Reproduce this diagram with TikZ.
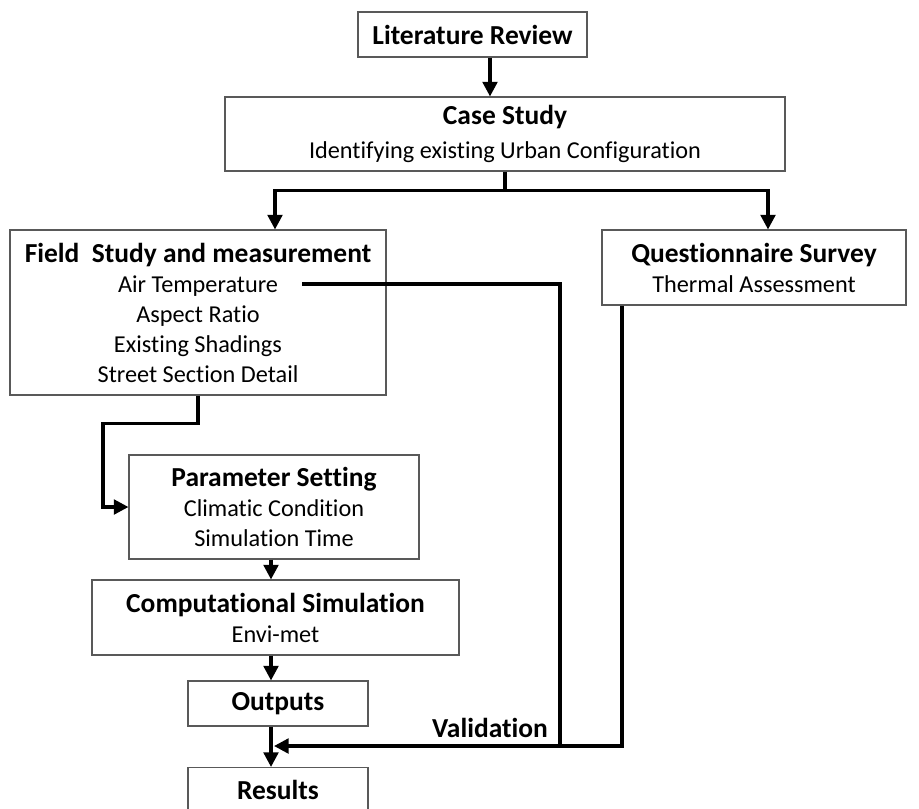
\documentclass[tikz,border=0pt]{standalone}
\usepackage{fontspec}
\setmainfont{Carlito}[Ligatures=NoCommon]
\usetikzlibrary{arrows.meta,calc,positioning}
\tikzset{
    >={Triangle[length=11pt,width=11pt]},
    box/.style 2 args={draw=black!65,line width=0.8pt,rectangle,inner sep=0pt,
        align=center,minimum width=#1*0.75pt,minimum height=#2*0.75pt},
    flow/.style={->,line width=2.5pt},
    link/.style={line width=2.5pt},
}
\newcommand{\hd}[1]{{\fontsize{20.6}{22.5}\selectfont\bfseries #1}}

\begin{document}
\begin{tikzpicture}[x=0.75pt,y=-0.75pt,font=\fontsize{18.2}{22.5}\selectfont]
            \useasboundingbox (0,0) rectangle (919,808);

            \node[box={229}{45}] (lit) at (472.5,34.5) {\hd{Literature Review}};
            \node[box={560}{74}] (case) at (505,134)
                {\hd{Case Study}\\[3pt] Identifying existing Urban Configuration};
            \node[box={376}{165}] (field) at (198,312.5)
                {\hd{Field\ \ Study and measurement}\\ Air Temperature\\ Aspect Ratio\\
                 Existing Shadings\\ Street Section Detail};
            \node[box={304}{75}] (quest) at (754,267.5)
                {\hd{Questionnaire Survey}\\ Thermal Assessment};
            \node[box={290}{104}] (param) at (274,507)
                {\hd{Parameter Setting}\\ Climatic Condition\\ Simulation Time};
            \node[box={367}{75}] (comp) at (275.5,617.5)
                {\hd{Computational Simulation}\\ Envi-met};
            \node[box={180}{45}] (outs) at (278,703.5) {\hd{Outputs}};
            \node[box={180}{45}] (res) at (278,790) {\hd{Results}};
            \node (valid) at (490,728) {\hd{Validation}};

            \coordinate (airT) at (302,284);
            \coordinate (vjoin) at (560,746);
            \coordinate (spine) at (271,0);

            % top part
            \draw[flow] ($(lit.south)+(17.5,0)$) coordinate (a) -- (a |- case.north);
            \draw[link] (case.south) -- ++(0,19) coordinate (split);
            \draw[flow] (split) -| ($(field.north)+(77,0)$);
            \draw[flow] (split) -| ($(quest.north)+(14,0)$);

            % left chain
            \draw[flow] (field.south) -- ++(0,28) -- ++(-95,0) |- (param.west);
            \draw[flow] (spine |- param.south) -- (spine |- comp.north);
            \draw[flow] (spine |- comp.south) -- (spine |- outs.north);
            \draw[flow] (spine |- outs.south) -- (spine |- res.north);

            % validation
            \draw[link] (airT) -| (vjoin);
            \draw[flow] ($(quest.south)+(-132,0)$) |- ($(spine |- vjoin)+(3,0)$);
        \end{tikzpicture}
\end{document}
